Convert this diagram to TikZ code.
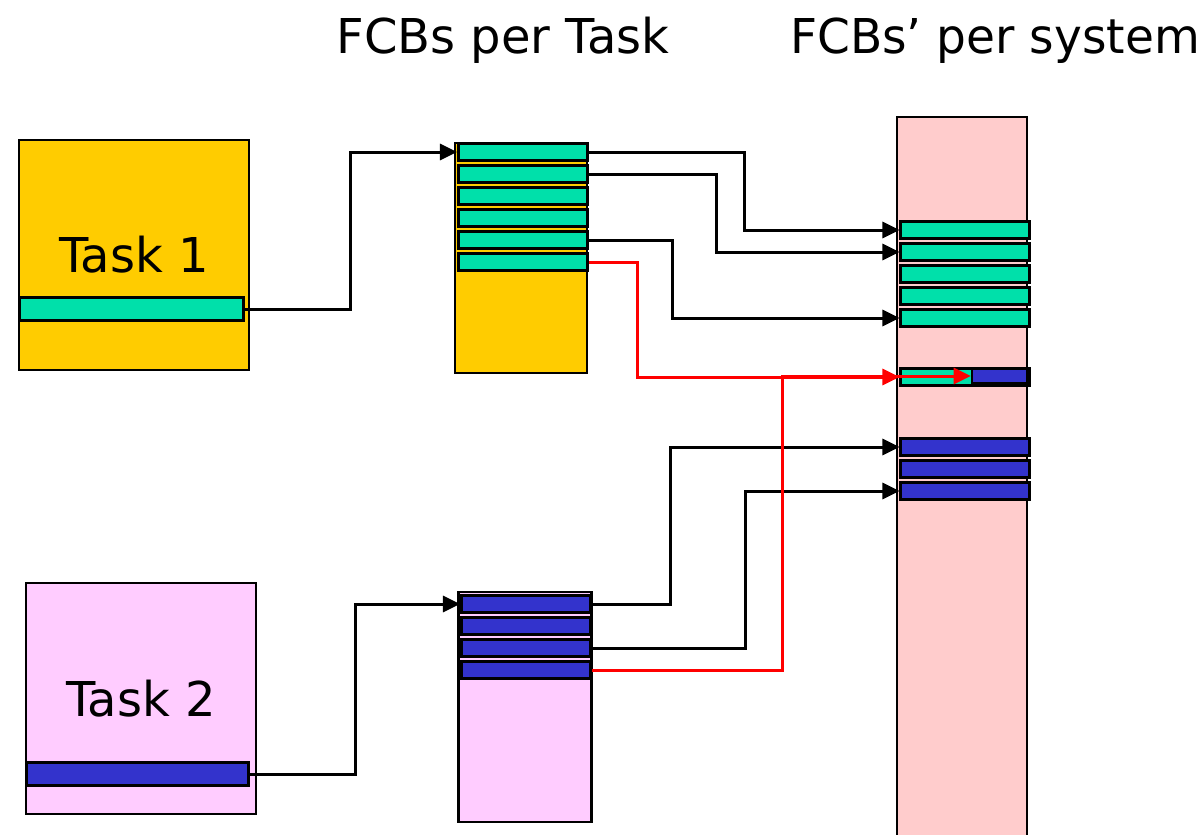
\documentclass[tikz,border=0pt]{standalone}
\usepackage{fontspec}
\setmainfont{DejaVu Sans}
\usepackage{tikz}
\usetikzlibrary{arrows.meta, positioning}
\definecolor{taskgold}{HTML}{FFCC00}
\definecolor{taskpink}{HTML}{FFCCFF}
\definecolor{syspink}{HTML}{FFCCCC}
\definecolor{fcbgreen}{HTML}{00E0AA}
\definecolor{fcbblue}{HTML}{3333CC}
\definecolor{linkred}{HTML}{FF0000}

\begin{document}
\begin{tikzpicture}[x=1pt, y=-1pt,
    box/.style={draw, line width=2.6pt, inner sep=0pt, minimum width=230pt, minimum height=230pt,
                font=\fontsize{48}{56}\selectfont},
    col/.style={draw, line width=2.6pt, inner sep=0pt, minimum width=132pt, minimum height=230pt},
    slot/.style={draw, line width=2.6pt, inner sep=0pt, minimum width=129.5pt, minimum height=16.5pt},
    gslot/.style={slot, fill=fcbgreen},
    bslot/.style={slot, fill=fcbblue},
    ttl/.style={inner sep=0pt, font=\fontsize{48}{56}\selectfont},
    link/.style={-{Triangle[length=17pt, width=16pt]}, line width=3pt},
    redlink/.style={link, linkred},
]
    \useasboundingbox (0,0) rectangle (1200,835);

    % titles
    \node[ttl, anchor=base] (tper) at (503,53) {FCBs per Task};
    \node[ttl, anchor=base west, xscale=0.98] (tsys) at (790,53) {FCBs’ per system};

    % tasks
    \node[box, fill=taskgold] (task1) at (134,255) {Task 1};
    \node[gslot, minimum width=224.5pt, minimum height=23pt] (bar1) at (131.5,309) {};
    \node[box, fill=taskpink, minimum height=231pt] (task2) at (141,698.5) {Task 2};
    \node[bslot, minimum width=222.5pt, minimum height=23pt] (bar2) at (137.5,774) {};

    % FCBs per task
    \node[col, fill=taskgold] (fcb1) at (521,258) {};
    \foreach \i in {1,...,6}
        \node[gslot] (a\i) at (523,{152+22*(\i-1)}) {};
    \node[col, fill=taskpink, minimum width=133pt] (fcb2) at (525,707) {};
    \foreach \i in {1,...,4}
        \node[bslot] (b\i) at (526,{604+22*(\i-1)}) {};

    % FCBs per system
    \node[col, fill=syspink, minimum width=130pt, minimum height=728pt] (sys) at (962,481) {};
    \foreach \i in {1,...,5}
        \node[gslot, minimum width=128.5pt] (s\i) at (965,{230+22*(\i-1)}) {};
    \node[gslot, minimum width=128.5pt] (shared) at (965,377) {};
    \node[bslot, minimum width=55pt, minimum height=14pt] (inner) at (999.5,376) {};
    \foreach \i in {1,...,3}
        \node[bslot, minimum width=128.5pt] (t\i) at (965,{447+22*(\i-1)}) {};

    % task -> own FCBs
    \draw[link] (bar1.east) -- ++(105,0) |- (a1.west);
    \draw[link] (bar2.east) -- ++(105,0) |- (b1.west);

    % own FCBs -> system FCBs
    \draw[link] (a1.east) -- ++(155,0) |- (s1.west);
    \draw[link] (a2.east) -- ++(127,0) |- (s2.west);
    \draw[link] (a5.east) -- ++(83,0) |- (s5.west);
    \draw[link] (b1.east) -- ++(78,0) |- (t1.west);
    \draw[link] (b3.east) -- ++(153,0) |- (t3.west);

    % shared entry
    \draw[redlink] (a6.east) -- ++(48,0) |- (shared.west);
    \draw[redlink] (b4.east) -- ++(190,0) |- (inner.west);
\end{tikzpicture}
\end{document}
